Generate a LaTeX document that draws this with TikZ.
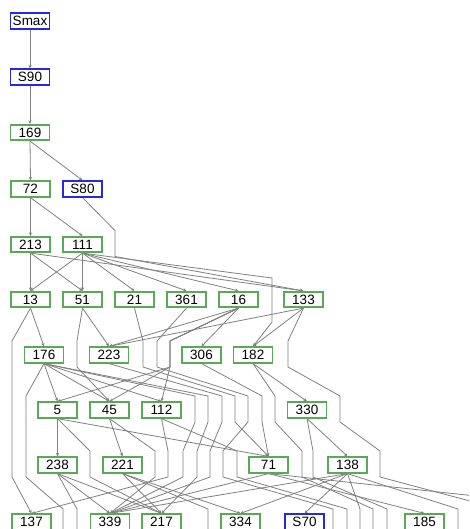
\documentclass[tikz,border=0pt]{standalone}
\usepackage{fontspec}
\setmainfont{Liberation Sans}
\usetikzlibrary{arrows.meta}
\pgfdeclarelayer{background}
\pgfsetlayers{background,main}
\definecolor{boxgreen}{RGB}{88,170,88}
\definecolor{boxblue}{RGB}{40,40,225}
\definecolor{edgegrey}{RGB}{128,128,128}
% bend points of a long edge crossing a layer centred at #3
\newcommand\virt[3]{\coordinate (#1t) at (#2,#3-14); \coordinate (#1b) at (#2,#3+12);}
% edge leaving through the lower border at x=#1
\newcommand\offb[1]{\coordinate (o#1t) at (#1,509); \coordinate (o#1b) at (#1,545);}
\begin{document}
\begin{tikzpicture}[x=1pt,y=-1pt,
  font=\fontsize{13.5}{16}\selectfont,
  gbox/.style={draw=boxgreen, line width=1.7pt, fill=white, minimum width=39pt,
    minimum height=15.5pt, inner sep=0pt},
  bbox/.style={gbox, draw=boxblue},
  edge/.style={draw=edgegrey, line width=0.8pt},
  arr/.style={edge, -{Stealth[length=3.5pt,width=3.2pt]}}]
\useasboundingbox (0,0) rectangle (469,529);

% layers 1-5
\node[bbox] (smax) at (30,21) {Smax};
\node[bbox] (s90)  at (30,77) {S90};
\node[gbox] (n169) at (30,132.5) {169};
\node[gbox] (n72)  at (30.5,189) {72};
\node[bbox] (s80)  at (82.5,189) {S80};
\node[gbox] (n213) at (30.5,244.5) {213};
\node[gbox] (n111) at (82.5,244.5) {111};
% layer 6
\node[gbox] (n13)  at (30.5,299.5) {13};
\node[gbox] (n51)  at (82.5,299.5) {51};
\node[gbox] (n21)  at (134.5,299.5) {21};
\node[gbox] (n361) at (186.5,299.5) {361};
\node[gbox] (n16)  at (238.5,299.5) {16};
\node[gbox] (n133) at (303.5,299.5) {133};
% layer 7
\node[gbox] (n176) at (44,355) {176};
\node[gbox] (n223) at (109,355) {223};
\node[gbox] (n306) at (201.5,355) {306};
\node[gbox] (n182) at (253,355) {182};
% layer 8
\node[gbox] (n5)   at (57.5,410) {5};
\node[gbox] (n45)  at (109.5,410) {45};
\node[gbox] (n112) at (161.5,410) {112};
\node[gbox] (n330) at (307,410) {330};
% layer 9
\node[gbox] (n238) at (57.5,465) {238};
\node[gbox] (n221) at (122.5,465) {221};
\node[gbox] (n71)  at (268.5,465) {71};
\node[gbox] (n138) at (347.5,465) {138};
% layer 10
\node[gbox] (n137) at (31.5,522) {137};
\node[gbox] (n339) at (110,522) {339};
\node[gbox] (n217) at (161.5,522) {217};
\node[gbox] (n334) at (240.5,522) {334};
\node[bbox] (s70)  at (304.5,522) {S70};
\node[gbox] (n185) at (424.5,522) {185};

% bend points of the long edges
\virt{a5}{115}{244.5}
\coordinate (a6t) at (272,278); \coordinate (a6b) at (272,322);
\virt{b7}{12}{355} \virt{b8}{12}{410} \virt{b9}{12}{465}
\virt{c7}{77}{355}
\virt{d7}{143}{355} \virt{d8}{235}{410}
\virt{e7}{157}{355} \virt{e8}{248}{410} \virt{e9}{223}{465}
\virt{f7}{170}{355}
\virt{g7}{288}{355} \virt{g8}{340}{410} \virt{g9}{380}{465}
\virt{h8}{26}{410} \virt{h9}{26}{465}
\virt{i8}{195}{410} \virt{i9}{183}{465}
\virt{j8}{208}{410} \virt{j9}{197}{465}
\virt{k8}{222}{410} \virt{k9}{210}{465}
\virt{m8}{262}{410}
\virt{u8}{275}{410} \virt{u9}{302}{465}
\virt{p9}{90}{465}
\virt{q9}{155}{465}
\virt{r9}{168}{465}
\virt{s9}{237}{465}
\virt{t9}{313}{465}
\offb{63} \offb{77} \offb{208} \offb{333} \offb{347} \offb{360} \offb{373} \offb{387} \offb{458}
\coordinate (oR1) at (485,497);
\coordinate (oR2) at (485,505);

\begin{pgfonlayer}{background}
\begin{scope}
\clip (0,0) rectangle (469,529);
% layers 1-5
\draw[arr] (smax.south) -- (s90.north);
\draw[arr] (s90.south) -- (n169.north);
\draw[arr] (n169.south) -- (n72.north);
\draw[arr] (n169.south) -- (s80.north);
\draw[arr] (n72.south) -- (n213.north);
\draw[arr] (n72.south) -- (n111.north);
\draw[arr] (s80.south) -- (a5t) -- (a5b) -- (n133.north);
\draw[arr] (n213.south) -- (n13.north);
\draw[arr] (n213.south) -- (n51.north);
\draw[arr] (n213.south) -- (n133.north);
\foreach \t in {n13,n51,n21,n361,n16} \draw[arr] (n111.south) -- (\t.north);
\draw[arr] (n111.south) -- (a6t) -- (a6b) -- (n182.north);
% layer 6 to 7
\draw[arr] (n13.south) -- (n176.north);
\draw[arr] (n13.south) -- (b7t) -- (b7b) -- (b8t) -- (b8b) -- (b9t) -- (b9b) -- (n137.north);
\draw[arr] (n51.south) -- (n223.north);
\draw[arr] (n51.south) -- (c7t) -- (c7b) -- (n45.north);
\draw[arr] (n21.south) -- (d7t) -- (d7b) -- (d8t) -- (d8b) -- (n71.north);
\draw[edge] (n361.south) -- (e7t) -- (e7b) -- (e8t) -- (e8b) -- (e9t) -- (e9b) -- (o333t) -- (o333b);
\draw[arr] (n16.south) -- (n223.north);
\draw[arr] (n16.south) -- (n306.north);
\foreach \t in {n5,n45,n112} \draw[arr] (n16.south) -- (f7t) -- (f7b) -- (\t.north);
\draw[arr] (n133.south) -- (n223.north);
\draw[arr] (n133.south) -- (n182.north);
\draw[edge] (n133.south) -- (g7t) -- (g7b) -- (g8t) -- (g8b) -- (g9t) -- (g9b) -- (oR2);
% layer 7 to 8
\foreach \t in {n5,n45,n112} \draw[arr] (n176.south) -- (\t.north);
\draw[edge] (n176.south) -- (h8t) -- (h8b) -- (h9t) -- (h9b) -- (o63t) -- (o63b);
\draw[arr] (n176.south) -- (i8t) -- (i8b) -- (i9t) -- (i9b) -- (n339.north);
\draw[arr] (n176.south) -- (j8t) -- (j8b) -- (j9t) -- (j9b) -- (n217.north);
\draw[arr] (n223.south) -- (k8t) -- (k8b) -- (k9t) -- (k9b) -- (n339.north);
\draw[arr] (n306.south) -- (m8t) -- (m8b) -- (n71.north);
\draw[arr] (n182.south) -- (n330.north);
\draw[edge] (n182.south) -- (u8t) -- (u8b) -- (u9t) -- (u9b) -- (o373t) -- (o373b);
% layer 8 to 9
\draw[arr] (n5.south) -- (n238.north);
\draw[arr] (n5.south) -- (n71.north);
\draw[arr] (n5.south) -- (p9t) -- (p9b) -- (n217.north);
\draw[arr] (n45.south) -- (n221.north);
\draw[arr] (n45.south) -- (q9t) -- (q9b) -- (n339.north);
\draw[arr] (n112.south) -- (r9t) -- (r9b) -- (n137.north);
\draw[edge] (n112.south) -- (s9t) -- (s9b) -- (o347t) -- (o347b);
\draw[arr] (n330.south) -- (n138.north);
\draw[edge] (n330.south) -- (t9t) -- (t9b) -- (o387t) -- (o387b);
% layer 9 to 10
\draw[arr] (n238.south) -- (n339.north);
\draw[arr] (n238.south) -- (n217.north);
\draw[edge] (n238.south) -- (o77t) -- (o77b);
\draw[arr] (n221.south) -- (n217.north);
\draw[arr] (n221.south) -- (n334.north);
\draw[edge] (n221.south) -- (o208t) -- (o208b);
\draw[arr] (n71.south) -- (n339.north);
\draw[arr] (n71.south) -- (n185.north);
\draw[edge] (n71.south) -- (oR1);
\draw[arr] (n138.south) -- (n334.north);
\draw[arr] (n138.south) -- (s70.north);
\draw[arr] (n138.south) -- (n339.north);
\draw[edge] (n138.south) -- (o360t) -- (o360b);
\draw[edge] (n138.south) -- (o458t) -- (o458b);
\end{scope}
\end{pgfonlayer}
\end{tikzpicture}
\end{document}
